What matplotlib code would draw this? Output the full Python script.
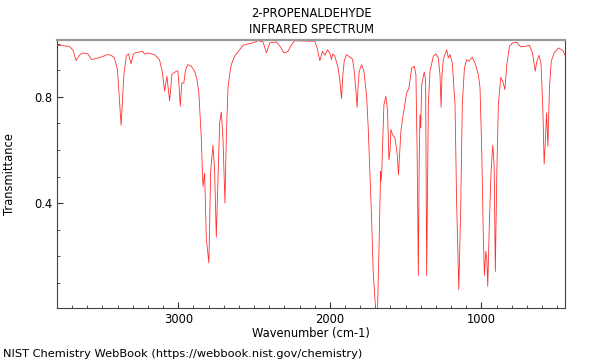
#!/usr/bin/env python3

"""
IR spectrum of 2-propenaldehyde (acrolein), redrawn from the NIST WebBook plot.
"""

import matplotlib
matplotlib.use("Agg")
import matplotlib.pyplot as plt
from matplotlib.ticker import MultipleLocator

# DATA------------------------------------------------------------------------

# Wavenumber (cm-1), high to low:
wavenumber = [
    3800, 3718, 3695, 3674, 3652, 3630, 3597, 3571, 3542, 3507,
    3465, 3441, 3421, 3401, 3388, 3377, 3368, 3359, 3342, 3328,
    3311, 3299, 3289, 3234, 3223, 3201, 3157, 3124, 3106, 3090,
    3075, 3057, 3042, 3029, 3013, 3003, 2995, 2987, 2976, 2963,
    2952, 2937, 2914, 2892, 2876, 2864, 2848, 2837, 2826, 2815,
    2798, 2786, 2771, 2760, 2749, 2738, 2727, 2716, 2705, 2692,
    2683, 2672, 2661, 2650, 2628, 2595, 2573, 2540, 2507, 2474,
    2441, 2418, 2397, 2352, 2330, 2302, 2276, 2253, 2231, 2165,
    2099, 2084, 2066, 2048, 2033, 2015, 2000, 1989, 1982, 1967,
    1945, 1934, 1923, 1914, 1905, 1890, 1868, 1850, 1839, 1828,
    1820, 1813, 1806, 1790, 1775, 1757, 1746, 1736, 1724, 1714,
    1698, 1685, 1674, 1665, 1663, 1658, 1643, 1630, 1619, 1610,
    1603, 1597, 1586, 1570, 1555, 1547, 1531, 1516, 1493, 1478,
    1460, 1443, 1432, 1424, 1416, 1410, 1405, 1400, 1394, 1377,
    1368, 1361, 1350, 1339, 1317, 1301, 1284, 1273, 1266, 1260,
    1251, 1229, 1218, 1207, 1192, 1174, 1163, 1149, 1136, 1126,
    1112, 1097, 1081, 1060, 1042, 1020, 1009, 997, 987, 980,
    971, 964, 958, 947, 936, 925, 916, 908, 898, 888,
    872, 859, 845, 832, 815, 795, 766, 740, 711, 683,
    663, 645, 634, 619, 606, 594, 586, 577, 570, 561,
    551, 539, 520, 491, 462, 445,
]

# Transmittance at each wavenumber:
transmittance = [
    0.995, 0.991, 0.977, 0.937, 0.958, 0.966, 0.963, 0.941, 0.945, 0.951,
    0.960, 0.957, 0.947, 0.902, 0.789, 0.693, 0.789, 0.883, 0.957, 0.962,
    0.925, 0.955, 0.966, 0.972, 0.962, 0.966, 0.960, 0.941, 0.897, 0.822,
    0.878, 0.786, 0.884, 0.891, 0.897, 0.899, 0.845, 0.765, 0.853, 0.853,
    0.902, 0.922, 0.916, 0.897, 0.864, 0.815, 0.645, 0.463, 0.513, 0.268,
    0.174, 0.520, 0.618, 0.520, 0.271, 0.487, 0.702, 0.743, 0.645, 0.400,
    0.645, 0.834, 0.884, 0.922, 0.954, 0.978, 0.995, 1.000, 1.004, 1.012,
    1.008, 0.966, 1.004, 1.008, 0.992, 0.966, 0.972, 0.997, 1.012, 1.011,
    1.010, 0.985, 0.937, 0.972, 0.957, 0.978, 0.966, 0.941, 0.962, 0.954,
    0.909, 0.864, 0.794, 0.883, 0.935, 0.960, 0.950, 0.943, 0.897, 0.826,
    0.761, 0.845, 0.897, 0.922, 0.897, 0.803, 0.675, 0.520, 0.336, 0.142,
    0.000, 0.000, 0.268, 0.520, 0.482, 0.506, 0.771, 0.803, 0.746, 0.563,
    0.595, 0.677, 0.658, 0.645, 0.582, 0.507, 0.671, 0.733, 0.815, 0.834,
    0.909, 0.916, 0.884, 0.600, 0.127, 0.562, 0.733, 0.683, 0.846, 0.894,
    0.864, 0.127, 0.771, 0.897, 0.954, 0.962, 0.947, 0.883, 0.761, 0.883,
    0.941, 0.978, 0.947, 0.960, 0.928, 0.771, 0.394, 0.073, 0.394, 0.771,
    0.909, 0.941, 0.935, 0.950, 0.928, 0.884, 0.834, 0.582, 0.268, 0.127,
    0.218, 0.192, 0.086, 0.331, 0.520, 0.618, 0.545, 0.142, 0.520, 0.771,
    0.874, 0.859, 0.828, 0.922, 0.991, 1.004, 1.006, 0.989, 0.991, 0.995,
    0.966, 0.897, 0.935, 0.957, 0.922, 0.746, 0.547, 0.645, 0.740, 0.614,
    0.834, 0.935, 0.966, 0.985, 0.975, 0.954,
]

x_ticks = [3000, 2000, 1000]
y_ticks = [0.4, 0.8]

# PLOT------------------------------------------------------------------------

fig = plt.figure(figsize=(6, 3.6), dpi=100)
ax = fig.add_axes([0.095, 0.145, 0.847, 0.744])

ax.plot(wavenumber, transmittance, color="#ff3030", lw=0.6)

ax.set_xlim(3800, 447)
ax.set_ylim(0.005, 1.015)

ax.set_xticks(x_ticks)
ax.set_yticks(y_ticks)
ax.set_yticklabels(["0.4", "0.8"])
ax.xaxis.set_minor_locator(MultipleLocator(100))
ax.yaxis.set_minor_locator(MultipleLocator(0.1))
ax.tick_params(which="both", direction="in", labelsize=8.3, color="#333333")
ax.tick_params(which="major", length=4)
ax.tick_params(which="minor", length=2.5)

for side in ["left", "bottom", "right"]:
    ax.spines[side].set_color("#444444")
    ax.spines[side].set_linewidth(0.8)
ax.spines["top"].set_color("#999999")
ax.spines["top"].set_linewidth(1.6)

ax.set_title("2-PROPENALDEHYDE\nINFRARED SPECTRUM", fontsize=8.3, pad=5,
             linespacing=1.35)
ax.set_xlabel("Wavenumber (cm-1)", fontsize=8.3, labelpad=1)
ax.set_ylabel("Transmittance", fontsize=8.3, labelpad=13)

fig.text(0.005, 0.003, "NIST Chemistry WebBook (https://webbook.nist.gov/chemistry)",
         fontsize=8.2, ha="left", va="bottom")

fig.savefig("out.png", dpi=100)
